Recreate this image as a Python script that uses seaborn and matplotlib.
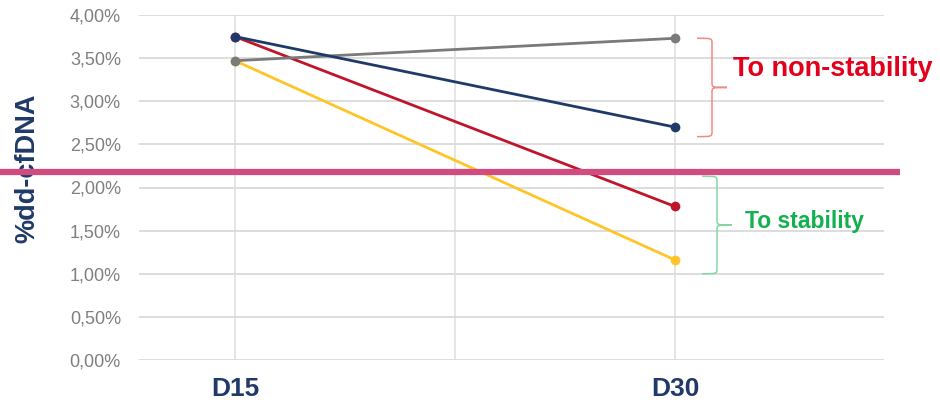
import matplotlib
matplotlib.use("Agg")
import matplotlib.pyplot as plt
import matplotlib.transforms as mtransforms
from matplotlib.path import Path
from matplotlib.patches import PathPatch
import numpy as np
import pandas as pd
import seaborn as sns

# --- data -------------------------------------------------------------
days = ["D15", "D30"]
patient_a = [3.75, 2.70]   # navy
patient_b = [3.47, 3.73]   # gray
patient_c = [3.75, 1.78]   # red
patient_d = [3.47, 1.16]   # yellow
threshold = 2.18
y_ticks = [0.0, 0.5, 1.0, 1.5, 2.0, 2.5, 3.0, 3.5, 4.0]
y_tick_labels = ["0,00%", "0,50%", "1,00%", "1,50%", "2,00%",
                 "2,50%", "3,00%", "3,50%", "4,00%"]

series = {"A": patient_a, "B": patient_b, "C": patient_c, "D": patient_d}
palette = {"A": "#1F3A68", "B": "#7A7A7A", "C": "#C0142B", "D": "#FFC526"}
draw_order = ["D", "C", "B", "A"]

df = pd.DataFrame(
    [(name, d, v) for name in draw_order for d, v in zip(days, series[name])],
    columns=["patient", "day", "value"],
)

# --- figure -----------------------------------------------------------
sns.set_theme(style="white")
plt.rcParams["font.family"] = ["Liberation Sans", "DejaVu Sans"]

fig = plt.figure(figsize=(9.4, 4.07), dpi=100)
ax = fig.add_axes([139 / 940, 47 / 407, 745 / 940, 345 / 407])

sns.lineplot(data=df, x="day", y="value", hue="patient", hue_order=draw_order,
             palette=palette, marker="o", markersize=7, markeredgewidth=0,
             linewidth=2, ax=ax, legend=False, sort=False)

ax.set_xlim(-96 / 440, 1 + 209 / 440)
ax.set_ylim(0, 4)
ax.set_yticks(y_ticks)
ax.set_yticklabels(y_tick_labels)
ax.set_xticks([0, 1])
ax.set_xticklabels(days)
ax.set_xticks([0.5], minor=True)
ax.tick_params(axis="both", which="both", length=0)
ax.tick_params(axis="y", labelsize=13, labelcolor="#7F7F7F", pad=13)
ax.tick_params(axis="x", labelsize=19, labelcolor="#1F3A68", pad=12)
for lbl in ax.get_xticklabels():
    lbl.set_fontweight("bold")
ax.grid(True, axis="y", color="#DADADA", linewidth=1.3)
ax.grid(True, axis="x", which="both", color="#E3E3E3", linewidth=1.3)
ax.set_axisbelow(True)
for s in ax.spines.values():
    s.set_visible(False)
ax.set_xlabel("")
ax.set_ylabel("")

fig.text(27 / 940, 1 - 168 / 407, "%dd-cfDNA", rotation=90, ha="center",
         va="center", fontsize=19.5, fontweight="bold", color="#1F3A68")

# threshold line across the whole figure width
blend = mtransforms.blended_transform_factory(fig.transFigure, ax.transData)
fig.add_artist(plt.Line2D([0, 900 / 940], [threshold, threshold],
                          transform=blend, color="#D04C80", linewidth=4.5,
                          solid_capstyle="butt", zorder=5))


def brace(x0, xm, xt, y_top, y_bot, color):
    """Right-facing curly brace in data coordinates."""
    y_mid = (y_top + y_bot) / 2
    r = 0.06
    verts = [
        (x0, y_top), (xm, y_top), (xm, y_top), (xm, y_top - r),
        (xm, y_mid + r),
        (xm, y_mid), (xm, y_mid), (xt, y_mid),
        (xm, y_mid), (xm, y_mid), (xm, y_mid - r),
        (xm, y_bot + r),
        (xm, y_bot), (xm, y_bot), (x0, y_bot),
    ]
    codes = [Path.MOVETO, Path.CURVE4, Path.CURVE4, Path.CURVE4,
             Path.LINETO,
             Path.CURVE4, Path.CURVE4, Path.CURVE4,
             Path.CURVE4, Path.CURVE4, Path.CURVE4,
             Path.LINETO,
             Path.CURVE4, Path.CURVE4, Path.CURVE4]
    ax.add_patch(PathPatch(Path(verts, codes), fill=False, edgecolor=color,
                           linewidth=1.1, clip_on=False))


def px(x):
    return (x - 235) / 440


brace(px(697), px(712), px(727), 3.73, 2.59, "#F08A8A")
brace(px(702), px(717), px(732), 2.13, 1.00, "#86D8A2")

ax.text(px(733), 3.37, "To non-stability", ha="left", va="center",
        fontsize=19.5, fontweight="bold", color="#E2001A", clip_on=False)
ax.text(px(745), 1.61, "To stability", ha="left", va="center",
        fontsize=16.5, fontweight="bold", color="#12B04E", clip_on=False)

fig.savefig("out.png", dpi=100)
